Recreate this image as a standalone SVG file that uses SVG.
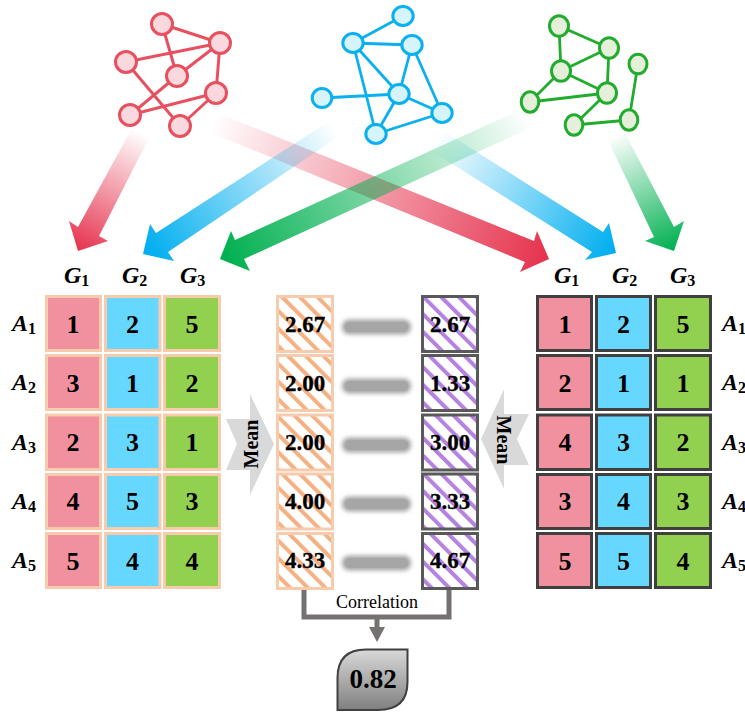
<svg xmlns="http://www.w3.org/2000/svg" width="745" height="713" viewBox="0 0 745 713">
<style>
.re{stroke:#E8505F;stroke-width:3;fill:none}
.rn{fill:#F9D9DE;stroke:#E8505F;stroke-width:3}
.be{stroke:#0BB0EE;stroke-width:2.800;fill:none}
.bn{fill:#D6F4FE;stroke:#0BB0EE;stroke-width:3}
.ge{stroke:#22AC2E;stroke-width:2.800;fill:none}
.gn{fill:#E4F0D9;stroke:#22AC2E;stroke-width:3}
.c1{fill:#F1919F}.c2{fill:#66D8FF}.c3{fill:#92D050}
.lc{stroke:#F8CBAD;stroke-width:3}
.rc{stroke:#404040;stroke-width:3}
.v{font:bold 26px "Liberation Serif",serif;text-anchor:middle;fill:#000}
.m{font:bold 23px "Liberation Serif",serif;text-anchor:middle;fill:#000;stroke:#000;stroke-width:.3}
.l{font:italic bold 24px "Liberation Serif",serif;fill:#000}
.s{font:bold 16px "Liberation Serif",serif;fill:#000}
.bar{fill:#A6A6A6}
.glow{fill:#A6A6A6;filter:url(#blur)}
.mean{font:bold 20px "Liberation Serif",serif;text-anchor:middle;fill:#000}
</style>
<defs>
<filter id="blur" x="-20%" y="-100%" width="140%" height="300%"><feGaussianBlur stdDeviation="2"/></filter>
<pattern id="po" width="12.500" height="12.500" patternUnits="userSpaceOnUse" patternTransform="rotate(-45)"><rect width="12.500" height="12.500" fill="#fff"/><rect width="4" height="12.500" fill="#F4B183"/></pattern>
<pattern id="pp" width="12.500" height="12.500" patternUnits="userSpaceOnUse" patternTransform="rotate(-45)"><rect width="12.500" height="12.500" fill="#fff"/><rect width="4" height="12.500" fill="#B583DF"/></pattern>
<linearGradient id="g1" gradientUnits="userSpaceOnUse" x1="140" y1="132" x2="80" y2="250"><stop offset="0" stop-color="#E6344F" stop-opacity="0"/><stop offset="1" stop-color="#E6344F"/></linearGradient>
<linearGradient id="g2" gradientUnits="userSpaceOnUse" x1="213" y1="121" x2="545" y2="258"><stop offset="0" stop-color="#E6344F" stop-opacity="0"/><stop offset="1" stop-color="#E6344F"/></linearGradient>
<linearGradient id="g3" gradientUnits="userSpaceOnUse" x1="335" y1="128" x2="148" y2="252"><stop offset="0" stop-color="#00AEEF" stop-opacity="0"/><stop offset="1" stop-color="#00AEEF"/></linearGradient>
<linearGradient id="g4" gradientUnits="userSpaceOnUse" x1="436" y1="140" x2="612" y2="252"><stop offset="0" stop-color="#00AEEF" stop-opacity="0"/><stop offset="1" stop-color="#00AEEF"/></linearGradient>
<linearGradient id="g5" gradientUnits="userSpaceOnUse" x1="528" y1="116" x2="225" y2="258"><stop offset="0" stop-color="#00B050" stop-opacity="0"/><stop offset="1" stop-color="#00B050"/></linearGradient>
<linearGradient id="g6" gradientUnits="userSpaceOnUse" x1="616" y1="135" x2="672" y2="250"><stop offset="0" stop-color="#00B050" stop-opacity="0"/><stop offset="1" stop-color="#00B050"/></linearGradient>
<linearGradient id="gb" x1="0" y1="0" x2="0" y2="1"><stop offset="0" stop-color="#D9D9D9"/><stop offset="1" stop-color="#7F7F7F"/></linearGradient>
</defs>

<g id="connectors">
<polygon fill="url(#g2)" points="218,113 207,131 525,262 520,272 549,259 537,231 534,241"/>
<polygon fill="url(#g1)" points="131,130 149,138 99,236 108,241 78,251 69,221 78,227"/>
<polygon fill="url(#g4)" points="442,130 430,150 592,252 585,260 616,253 609,223 603,232"/>
<polygon fill="url(#g3)" points="328,122 338,137 168,252 174,261 143,254 150,224 156,233"/>
<polygon fill="url(#g5)" points="520,110 537,125 244,259 250,271 220,259 231,231 235,240"/>
<polygon fill="url(#g6)" points="607,138 625,133 674,227 684,221 674,251 645,241 654,237"/>
<g id="red-edges" class="re"><path d="M162 24L220 43M162 24L177 76M126 62L220 43M177 76L220 43M220 43L216 93M177 76L130 115M126 62L180 126M130 115L216 93M180 126L216 93"/></g>
<g id="blue-edges" class="be"><path d="M353 43L403 16M353 43L412 45M353 43L399 94M353 43L376 134M322 98L399 94M412 45L399 94M412 45L442 113M399 94L442 113M399 94L376 134M376 134L442 113"/></g>
<g id="green-edges" class="ge"><path d="M559 26L609 48M559 26L561 71M561 71L609 48M609 48L607 93M561 71L607 93M561 71L530 102M530 102L607 93M607 93L574 125M574 125L629 120M629 120L638 64"/></g>
<path d="M304 589V617H449V589" fill="none" stroke="#767171" stroke-width="5"/>
<path d="M377 617V628" fill="none" stroke="#767171" stroke-width="5"/>
<polygon points="369,627 385,627 377,642" fill="#767171"/>
</g>

<g id="red-graph">
<circle id="r1" class="rn" cx="162" cy="24" r="10.500"/><circle id="r2" class="rn" cx="220" cy="43" r="10.500"/><circle id="r3" class="rn" cx="126" cy="62" r="10.500"/><circle id="r4" class="rn" cx="177" cy="76" r="10.500"/><circle id="r5" class="rn" cx="216" cy="93" r="10.500"/><circle id="r6" class="rn" cx="130" cy="115" r="10.500"/><circle id="r7" class="rn" cx="180" cy="126" r="10.500"/>
</g>
<g id="blue-graph">
<ellipse id="b1" class="bn" cx="403" cy="16" rx="10.200" ry="9.500"/><ellipse id="b2" class="bn" cx="353" cy="43" rx="10.200" ry="9.500"/><ellipse id="b3" class="bn" cx="412" cy="45" rx="10.200" ry="9.500"/><ellipse id="b4" class="bn" cx="322" cy="98" rx="9.800" ry="9.500"/><ellipse id="b5" class="bn" cx="399" cy="94" rx="10.200" ry="9.500"/><ellipse id="b6" class="bn" cx="442" cy="113" rx="10.200" ry="9.500"/><ellipse id="b7" class="bn" cx="376" cy="134" rx="10.200" ry="9.500"/>
</g>
<g id="green-graph">
<ellipse id="g-1" class="gn" cx="559" cy="26" rx="9.500" ry="10.300"/><ellipse id="g-2" class="gn" cx="609" cy="48" rx="9.500" ry="10.300"/><ellipse id="g-3" class="gn" cx="561" cy="71" rx="9.500" ry="10.300"/><ellipse id="g-4" class="gn" cx="607" cy="93" rx="9.500" ry="10.300"/><ellipse id="g-5" class="gn" cx="530" cy="102" rx="8.800" ry="10.300"/><ellipse id="g-6" class="gn" cx="574" cy="125" rx="8.800" ry="10.300"/><ellipse id="g-7" class="gn" cx="629" cy="120" rx="8.800" ry="10.300"/><ellipse id="g-8" class="gn" cx="638" cy="64" rx="9" ry="9.800"/>
</g>

<g id="left-table">
<rect class="c1 lc" x="46.500" y="296.500" width="54" height="54"/><rect class="c2 lc" x="105.500" y="296.500" width="54.500" height="54"/><rect class="c3 lc" x="164.500" y="296.500" width="55" height="54"/>
<rect class="c1 lc" x="46.500" y="355.500" width="54" height="54"/><rect class="c2 lc" x="105.500" y="355.500" width="54.500" height="54"/><rect class="c3 lc" x="164.500" y="355.500" width="55" height="54"/>
<rect class="c1 lc" x="46.500" y="415" width="54" height="54.500"/><rect class="c2 lc" x="105.500" y="415" width="54.500" height="54.500"/><rect class="c3 lc" x="164.500" y="415" width="55" height="54.500"/>
<rect class="c1 lc" x="46.500" y="474.500" width="54" height="54"/><rect class="c2 lc" x="105.500" y="474.500" width="54.500" height="54"/><rect class="c3 lc" x="164.500" y="474.500" width="55" height="54"/>
<rect class="c1 lc" x="46.500" y="533.500" width="54" height="54"/><rect class="c2 lc" x="105.500" y="533.500" width="54.500" height="54"/><rect class="c3 lc" x="164.500" y="533.500" width="55" height="54"/>
<text class="v" x="73" y="333">1</text><text class="v" x="132.500" y="333">2</text><text class="v" x="192" y="333">5</text>
<text class="v" x="73" y="392">3</text><text class="v" x="132.500" y="392">1</text><text class="v" x="192" y="392">2</text>
<text class="v" x="73" y="451">2</text><text class="v" x="132.500" y="451">3</text><text class="v" x="192" y="451">1</text>
<text class="v" x="73" y="510">4</text><text class="v" x="132.500" y="510">5</text><text class="v" x="192" y="510">3</text>
<text class="v" x="73" y="570">5</text><text class="v" x="132.500" y="570">4</text><text class="v" x="192" y="570">4</text>
</g>
<g id="left-headers">
<text class="l" x="64" y="283">G<tspan class="s" dy="3">1</tspan></text><text class="l" x="122" y="283">G<tspan class="s" dy="3">2</tspan></text><text class="l" x="180" y="283">G<tspan class="s" dy="3">3</tspan></text>
<text class="l" x="12" y="331">A<tspan class="s" dy="3">1</tspan></text><text class="l" x="12" y="390">A<tspan class="s" dy="3">2</tspan></text><text class="l" x="12" y="450">A<tspan class="s" dy="3">3</tspan></text><text class="l" x="12" y="509">A<tspan class="s" dy="3">4</tspan></text><text class="l" x="12" y="568">A<tspan class="s" dy="3">5</tspan></text>
</g>

<g id="right-table">
<rect class="c1 rc" x="537.500" y="296.500" width="54" height="54"/><rect class="c2 rc" x="596.500" y="296.500" width="54" height="54"/><rect class="c3 rc" x="655.500" y="296.500" width="55" height="54"/>
<rect class="c1 rc" x="537.500" y="355.500" width="54" height="54"/><rect class="c2 rc" x="596.500" y="355.500" width="54" height="54"/><rect class="c3 rc" x="655.500" y="355.500" width="55" height="54"/>
<rect class="c1 rc" x="537.500" y="415" width="54" height="54.500"/><rect class="c2 rc" x="596.500" y="415" width="54" height="54.500"/><rect class="c3 rc" x="655.500" y="415" width="55" height="54.500"/>
<rect class="c1 rc" x="537.500" y="474.500" width="54" height="54"/><rect class="c2 rc" x="596.500" y="474.500" width="54" height="54"/><rect class="c3 rc" x="655.500" y="474.500" width="55" height="54"/>
<rect class="c1 rc" x="537.500" y="533.500" width="54" height="54"/><rect class="c2 rc" x="596.500" y="533.500" width="54" height="54"/><rect class="c3 rc" x="655.500" y="533.500" width="55" height="54"/>
<text class="v" x="565" y="333">1</text><text class="v" x="623.500" y="333">2</text><text class="v" x="683" y="333">5</text>
<text class="v" x="565" y="392">2</text><text class="v" x="623.500" y="392">1</text><text class="v" x="683" y="392">1</text>
<text class="v" x="565" y="451">4</text><text class="v" x="623.500" y="451">3</text><text class="v" x="683" y="451">2</text>
<text class="v" x="565" y="510">3</text><text class="v" x="623.500" y="510">4</text><text class="v" x="683" y="510">3</text>
<text class="v" x="565" y="570">5</text><text class="v" x="623.500" y="570">5</text><text class="v" x="683" y="570">4</text>
</g>
<g id="right-headers">
<text class="l" x="554" y="283">G<tspan class="s" dy="3">1</tspan></text><text class="l" x="612" y="283">G<tspan class="s" dy="3">2</tspan></text><text class="l" x="670" y="283">G<tspan class="s" dy="3">3</tspan></text>
<text class="l" x="722" y="331">A<tspan class="s" dy="3">1</tspan></text><text class="l" x="722" y="390">A<tspan class="s" dy="3">2</tspan></text><text class="l" x="722" y="450">A<tspan class="s" dy="3">3</tspan></text><text class="l" x="722" y="509">A<tspan class="s" dy="3">4</tspan></text><text class="l" x="722" y="568">A<tspan class="s" dy="3">5</tspan></text>
</g>

<g id="left-mean-col">
<rect fill="url(#po)" stroke="#F8CBAD" stroke-width="3" x="277.500" y="296.500" width="55" height="55"/><rect fill="url(#po)" stroke="#F8CBAD" stroke-width="3" x="277.500" y="355.500" width="55" height="55"/><rect fill="url(#po)" stroke="#F8CBAD" stroke-width="3" x="277.500" y="415" width="55" height="55"/><rect fill="url(#po)" stroke="#F8CBAD" stroke-width="3" x="277.500" y="474" width="55" height="55"/><rect fill="url(#po)" stroke="#F8CBAD" stroke-width="3" x="277.500" y="533.500" width="55" height="55"/>
<text class="m" x="305" y="332">2.67</text><text class="m" x="305" y="391">2.00</text><text class="m" x="305" y="450">2.00</text><text class="m" x="305" y="509">4.00</text><text class="m" x="305" y="568">4.33</text>
</g>
<g id="right-mean-col">
<rect fill="url(#pp)" stroke="#595959" stroke-width="3" x="422.500" y="296.500" width="55" height="55"/><rect fill="url(#pp)" stroke="#595959" stroke-width="3" x="422.500" y="355.500" width="55" height="55"/><rect fill="url(#pp)" stroke="#595959" stroke-width="3" x="422.500" y="415" width="55" height="55"/><rect fill="url(#pp)" stroke="#595959" stroke-width="3" x="422.500" y="474" width="55" height="55"/><rect fill="url(#pp)" stroke="#595959" stroke-width="3" x="422.500" y="533.500" width="55" height="55"/>
<text class="m" x="450" y="332">2.67</text><text class="m" x="450" y="391">1.33</text><text class="m" x="450" y="450">3.00</text><text class="m" x="450" y="509">3.33</text><text class="m" x="450" y="568">4.67</text>
</g>
<g id="bars">
<rect class="glow" x="342" y="319.500" width="69" height="15" rx="7"/><rect class="bar" x="345" y="322" width="63" height="10" rx="5"/>
<rect class="glow" x="342" y="378.500" width="69" height="15" rx="7"/><rect class="bar" x="345" y="381" width="63" height="10" rx="5"/>
<rect class="glow" x="342" y="437.500" width="69" height="15" rx="7"/><rect class="bar" x="345" y="440" width="63" height="10" rx="5"/>
<rect class="glow" x="342" y="496.500" width="69" height="15" rx="7"/><rect class="bar" x="345" y="499" width="63" height="10" rx="5"/>
<rect class="glow" x="342" y="555.500" width="69" height="15" rx="7"/><rect class="bar" x="345" y="558" width="63" height="10" rx="5"/>
</g>
<g id="mean-left">
<polygon fill="#D9D9D9" points="226,419 250,419 250,394 274,444 250,495 250,470 226,470 237,444"/>
<text class="mean" transform="translate(258,444) rotate(-90)">Mean</text>
</g>
<g id="mean-right">
<polygon fill="#D9D9D9" points="529,414 504,414 504,389 481,439 504,489 504,465 529,465 517,439"/>
<text class="mean" transform="translate(497,440) rotate(90)">Mean</text>
</g>
<g id="correlation"><text x="377" y="608" font-family="Liberation Serif, serif" font-size="18" text-anchor="middle" fill="#000">Correlation</text></g>
<g id="result">
<path d="M407.500 649.500V682Q407.500 710 378 710H337.500V678Q337.500 649.500 366 649.500Z" fill="url(#gb)" stroke="#404040" stroke-width="2"/>
<text x="373" y="688" font-family="Liberation Serif, serif" font-weight="bold" font-size="27" text-anchor="middle" fill="#000">0.82</text>
</g>
</svg>
